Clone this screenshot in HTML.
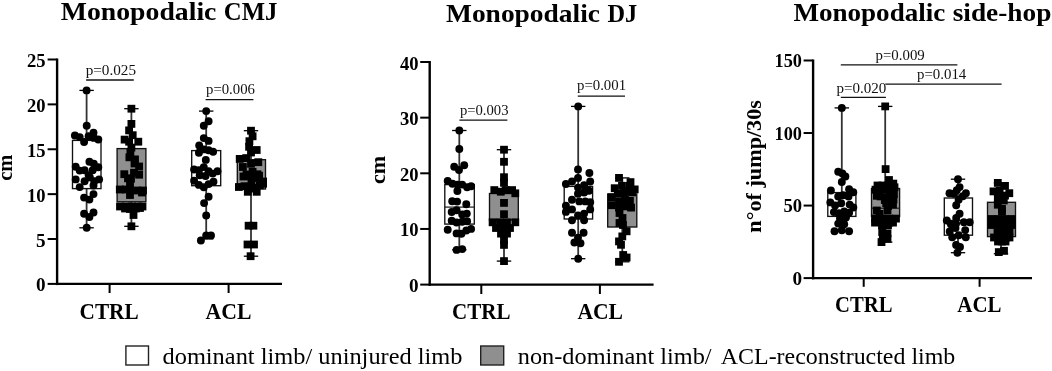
<!DOCTYPE html>
<html><head><meta charset="utf-8"><style>
html,body{margin:0;padding:0;background:#fff;}
svg{display:block;will-change:transform;font-family:"Liberation Serif",serif;}
</style></head><body>
<svg width="1052" height="371" viewBox="0 0 1052 371">
<rect width="1052" height="371" fill="#fff"/>
<line x1="57.1" y1="58.5" x2="57.1" y2="285.09999999999997" stroke="#000" stroke-width="2.4"/>
<line x1="56.1" y1="283.9" x2="282" y2="283.9" stroke="#000" stroke-width="2.4"/>
<line x1="47.6" y1="283.9" x2="57.1" y2="283.9" stroke="#000" stroke-width="2"/>
<text x="36.0" y="291.4" font-size="18" font-weight="bold" textLength="9.6" lengthAdjust="spacingAndGlyphs">0</text>
<line x1="47.6" y1="239.01999999999998" x2="57.1" y2="239.01999999999998" stroke="#000" stroke-width="2"/>
<text x="36.0" y="246.52" font-size="18" font-weight="bold" textLength="9.6" lengthAdjust="spacingAndGlyphs">5</text>
<line x1="47.6" y1="194.14" x2="57.1" y2="194.14" stroke="#000" stroke-width="2"/>
<text x="27.0" y="201.64" font-size="18" font-weight="bold" textLength="18.6" lengthAdjust="spacingAndGlyphs">10</text>
<line x1="47.6" y1="149.25999999999996" x2="57.1" y2="149.25999999999996" stroke="#000" stroke-width="2"/>
<text x="27.0" y="156.76" font-size="18" font-weight="bold" textLength="18.6" lengthAdjust="spacingAndGlyphs">15</text>
<line x1="47.6" y1="104.37999999999997" x2="57.1" y2="104.37999999999997" stroke="#000" stroke-width="2"/>
<text x="27.0" y="111.88" font-size="18" font-weight="bold" textLength="18.6" lengthAdjust="spacingAndGlyphs">20</text>
<line x1="47.6" y1="59.49999999999994" x2="57.1" y2="59.49999999999994" stroke="#000" stroke-width="2"/>
<text x="27.0" y="67.0" font-size="18" font-weight="bold" textLength="18.6" lengthAdjust="spacingAndGlyphs">25</text>
<line x1="109.6" y1="283.9" x2="109.6" y2="293" stroke="#000" stroke-width="2"/>
<line x1="228.6" y1="283.9" x2="228.6" y2="293" stroke="#000" stroke-width="2"/>
<text x="79.55" y="318.7" font-size="22.5" font-weight="bold" textLength="59.1" lengthAdjust="spacingAndGlyphs">CTRL</text>
<text x="205.55" y="318.7" font-size="22.5" font-weight="bold" textLength="45.9" lengthAdjust="spacingAndGlyphs">ACL</text>
<line x1="429.7" y1="61" x2="429.7" y2="285.8" stroke="#000" stroke-width="2.4"/>
<line x1="428.7" y1="284.6" x2="653.6" y2="284.6" stroke="#000" stroke-width="2.4"/>
<line x1="420.2" y1="284.6" x2="429.7" y2="284.6" stroke="#000" stroke-width="2"/>
<text x="408.9" y="292.1" font-size="18" font-weight="bold" textLength="9.6" lengthAdjust="spacingAndGlyphs">0</text>
<line x1="420.2" y1="228.95000000000002" x2="429.7" y2="228.95000000000002" stroke="#000" stroke-width="2"/>
<text x="399.9" y="236.45" font-size="18" font-weight="bold" textLength="18.6" lengthAdjust="spacingAndGlyphs">10</text>
<line x1="420.2" y1="173.3" x2="429.7" y2="173.3" stroke="#000" stroke-width="2"/>
<text x="399.9" y="180.8" font-size="18" font-weight="bold" textLength="18.6" lengthAdjust="spacingAndGlyphs">20</text>
<line x1="420.2" y1="117.65" x2="429.7" y2="117.65" stroke="#000" stroke-width="2"/>
<text x="399.9" y="125.15" font-size="18" font-weight="bold" textLength="18.6" lengthAdjust="spacingAndGlyphs">30</text>
<line x1="420.2" y1="62.0" x2="429.7" y2="62.0" stroke="#000" stroke-width="2"/>
<text x="399.9" y="69.5" font-size="18" font-weight="bold" textLength="18.6" lengthAdjust="spacingAndGlyphs">40</text>
<line x1="481.3" y1="284.6" x2="481.3" y2="294" stroke="#000" stroke-width="2"/>
<line x1="599.9" y1="284.6" x2="599.9" y2="294" stroke="#000" stroke-width="2"/>
<text x="452.1" y="318.9" font-size="22.5" font-weight="bold" textLength="58.4" lengthAdjust="spacingAndGlyphs">CTRL</text>
<text x="577.4" y="318.9" font-size="22.5" font-weight="bold" textLength="45.6" lengthAdjust="spacingAndGlyphs">ACL</text>
<line x1="813.1" y1="59.5" x2="813.1" y2="279.3" stroke="#000" stroke-width="2.4"/>
<line x1="812.1" y1="278.1" x2="1032" y2="278.1" stroke="#000" stroke-width="2.4"/>
<line x1="803.6" y1="278.1" x2="813.1" y2="278.1" stroke="#000" stroke-width="2"/>
<text x="792.4" y="284.7" font-size="18" font-weight="bold" textLength="9.6" lengthAdjust="spacingAndGlyphs">0</text>
<line x1="803.6" y1="205.565" x2="813.1" y2="205.565" stroke="#000" stroke-width="2"/>
<text x="783.4" y="212.16" font-size="18" font-weight="bold" textLength="18.6" lengthAdjust="spacingAndGlyphs">50</text>
<line x1="803.6" y1="133.03" x2="813.1" y2="133.03" stroke="#000" stroke-width="2"/>
<text x="774.6" y="139.63" font-size="18" font-weight="bold" textLength="27.4" lengthAdjust="spacingAndGlyphs">100</text>
<line x1="803.6" y1="60.495000000000005" x2="813.1" y2="60.495000000000005" stroke="#000" stroke-width="2"/>
<text x="774.6" y="67.09" font-size="18" font-weight="bold" textLength="27.4" lengthAdjust="spacingAndGlyphs">150</text>
<line x1="863.7" y1="278.1" x2="863.7" y2="286.8" stroke="#000" stroke-width="2"/>
<line x1="979.6" y1="278.1" x2="979.6" y2="286.8" stroke="#000" stroke-width="2"/>
<text x="835.1" y="311.5" font-size="22.5" font-weight="bold" textLength="57.4" lengthAdjust="spacingAndGlyphs">CTRL</text>
<text x="957.3" y="311.5" font-size="22.5" font-weight="bold" textLength="44.2" lengthAdjust="spacingAndGlyphs">ACL</text>
<line x1="86.6" y1="90.4" x2="86.6" y2="140.4" stroke="#333" stroke-width="1.8"/>
<line x1="86.6" y1="188.6" x2="86.6" y2="227.8" stroke="#333" stroke-width="1.8"/>
<line x1="79.39999999999999" y1="90.4" x2="93.8" y2="90.4" stroke="#000" stroke-width="1.3"/>
<line x1="79.39999999999999" y1="227.8" x2="93.8" y2="227.8" stroke="#000" stroke-width="1.3"/>
<rect x="72.5" y="140.4" width="28.5" height="48.2" fill="#fff" stroke="#111" stroke-width="1.35"/>
<circle cx="86.6" cy="90.4" r="3.95"/>
<circle cx="86.7" cy="125.8" r="3.95"/>
<circle cx="74.9" cy="135.5" r="3.95"/>
<circle cx="79.7" cy="137.1" r="3.95"/>
<circle cx="84.1" cy="142" r="3.95"/>
<circle cx="88.6" cy="136.3" r="3.95"/>
<circle cx="93.5" cy="132.8" r="3.95"/>
<circle cx="93.8" cy="137.9" r="3.95"/>
<circle cx="98.3" cy="139.5" r="3.95"/>
<circle cx="89.4" cy="161.8" r="3.95"/>
<circle cx="93.8" cy="163.8" r="3.95"/>
<circle cx="75.7" cy="166.7" r="3.95"/>
<circle cx="98.3" cy="167.3" r="3.95"/>
<circle cx="79.7" cy="170.6" r="3.95"/>
<circle cx="84.6" cy="170.2" r="3.95"/>
<circle cx="92.7" cy="170.2" r="3.95"/>
<circle cx="88.6" cy="175.1" r="3.95"/>
<circle cx="75.7" cy="179.4" r="3.95"/>
<circle cx="84.6" cy="181.2" r="3.95"/>
<circle cx="89.9" cy="177.4" r="3.95"/>
<circle cx="94.3" cy="181.2" r="3.95"/>
<circle cx="99.1" cy="179.4" r="3.95"/>
<circle cx="79.7" cy="187.1" r="3.95"/>
<circle cx="93.5" cy="185.5" r="3.95"/>
<circle cx="93.5" cy="194.1" r="3.95"/>
<circle cx="84.1" cy="197.6" r="3.95"/>
<circle cx="89.4" cy="199.6" r="3.95"/>
<circle cx="93.5" cy="212.5" r="3.95"/>
<circle cx="84.1" cy="213.8" r="3.95"/>
<circle cx="89.4" cy="217" r="3.95"/>
<circle cx="86.7" cy="227.8" r="3.95"/>
<line x1="131.4" y1="108.7" x2="131.4" y2="148.6" stroke="#333" stroke-width="1.8"/>
<line x1="131.4" y1="201.8" x2="131.4" y2="226.3" stroke="#333" stroke-width="1.8"/>
<line x1="124.2" y1="108.7" x2="138.6" y2="108.7" stroke="#000" stroke-width="1.3"/>
<line x1="124.2" y1="226.3" x2="138.6" y2="226.3" stroke="#000" stroke-width="1.3"/>
<rect x="117.1" y="148.6" width="28.8" height="53.2" fill="#8f8f8f" stroke="#111" stroke-width="1.35"/>
<rect x="127.5" y="104.8" width="7.8" height="7.8"/>
<rect x="127.5" y="120.0" width="7.8" height="7.8"/>
<rect x="125.2" y="126.5" width="7.8" height="7.8"/>
<rect x="128.8" y="131.3" width="7.8" height="7.8"/>
<rect x="120.7" y="135.7" width="7.8" height="7.8"/>
<rect x="125.2" y="137.8" width="7.8" height="7.8"/>
<rect x="134.4" y="137.8" width="7.8" height="7.8"/>
<rect x="127.5" y="143.7" width="7.8" height="7.8"/>
<rect x="126.5" y="148.3" width="7.8" height="7.8"/>
<rect x="125.5" y="153.4" width="7.8" height="7.8"/>
<rect x="131.1" y="155.5" width="7.8" height="7.8"/>
<rect x="130.6" y="159.6" width="7.8" height="7.8"/>
<rect x="135.2" y="162.6" width="7.8" height="7.8"/>
<rect x="120.4" y="170.3" width="7.8" height="7.8"/>
<rect x="130.1" y="168.8" width="7.8" height="7.8"/>
<rect x="135.2" y="170.8" width="7.8" height="7.8"/>
<rect x="124.1" y="174.4" width="7.8" height="7.8"/>
<rect x="127.1" y="174.9" width="7.8" height="7.8"/>
<rect x="126.1" y="179.1" width="7.8" height="7.8"/>
<rect x="115.9" y="185.6" width="7.8" height="7.8"/>
<rect x="122.1" y="185.6" width="7.8" height="7.8"/>
<rect x="126.1" y="185.6" width="7.8" height="7.8"/>
<rect x="133.1" y="186.6" width="7.8" height="7.8"/>
<rect x="139.1" y="186.6" width="7.8" height="7.8"/>
<rect x="126.1" y="191.1" width="7.8" height="7.8"/>
<rect x="138.1" y="188.6" width="7.8" height="7.8"/>
<rect x="116.1" y="202.6" width="7.8" height="7.8"/>
<rect x="122.1" y="202.6" width="7.8" height="7.8"/>
<rect x="128.1" y="202.6" width="7.8" height="7.8"/>
<rect x="134.1" y="202.6" width="7.8" height="7.8"/>
<rect x="138.6" y="202.6" width="7.8" height="7.8"/>
<rect x="121.1" y="204.6" width="7.8" height="7.8"/>
<rect x="126.1" y="205.1" width="7.8" height="7.8"/>
<rect x="132.1" y="204.6" width="7.8" height="7.8"/>
<rect x="136.1" y="204.1" width="7.8" height="7.8"/>
<rect x="129.6" y="211.1" width="7.8" height="7.8"/>
<rect x="127.5" y="222.4" width="7.8" height="7.8"/>
<line x1="206.2" y1="111.1" x2="206.2" y2="150.6" stroke="#333" stroke-width="1.8"/>
<line x1="206.2" y1="185.7" x2="206.2" y2="238.9" stroke="#333" stroke-width="1.8"/>
<line x1="199.0" y1="111.1" x2="213.39999999999998" y2="111.1" stroke="#000" stroke-width="1.3"/>
<line x1="199.0" y1="238.9" x2="213.39999999999998" y2="238.9" stroke="#000" stroke-width="1.3"/>
<rect x="191.7" y="150.6" width="29.0" height="35.1" fill="#fff" stroke="#111" stroke-width="1.35"/>
<circle cx="206.2" cy="111.1" r="3.95"/>
<circle cx="208.6" cy="121.2" r="3.95"/>
<circle cx="203.8" cy="125.7" r="3.95"/>
<circle cx="203.8" cy="138.1" r="3.95"/>
<circle cx="208.6" cy="140.9" r="3.95"/>
<circle cx="199.2" cy="145.4" r="3.95"/>
<circle cx="198.9" cy="152.7" r="3.95"/>
<circle cx="203.8" cy="149.4" r="3.95"/>
<circle cx="208.6" cy="150.2" r="3.95"/>
<circle cx="213.1" cy="151.8" r="3.95"/>
<circle cx="205.8" cy="159.9" r="3.95"/>
<circle cx="194.1" cy="169.5" r="3.95"/>
<circle cx="198.9" cy="170.3" r="3.95"/>
<circle cx="203.8" cy="167.1" r="3.95"/>
<circle cx="208.6" cy="171.2" r="3.95"/>
<circle cx="217.5" cy="171.2" r="3.95"/>
<circle cx="212.7" cy="173.6" r="3.95"/>
<circle cx="199.7" cy="175.2" r="3.95"/>
<circle cx="205.5" cy="176" r="3.95"/>
<circle cx="194.1" cy="180.8" r="3.95"/>
<circle cx="198.9" cy="184.9" r="3.95"/>
<circle cx="203.8" cy="187.3" r="3.95"/>
<circle cx="208.6" cy="184.1" r="3.95"/>
<circle cx="213.5" cy="181.7" r="3.95"/>
<circle cx="208.6" cy="196.7" r="3.95"/>
<circle cx="204.1" cy="203.1" r="3.95"/>
<circle cx="206.2" cy="215.5" r="3.95"/>
<circle cx="206.2" cy="235.4" r="3.95"/>
<circle cx="211" cy="235.4" r="3.95"/>
<circle cx="200.9" cy="240.5" r="3.95"/>
<line x1="251.0" y1="130.7" x2="251.0" y2="159.7" stroke="#333" stroke-width="1.8"/>
<line x1="251.0" y1="189.0" x2="251.0" y2="256.2" stroke="#333" stroke-width="1.8"/>
<line x1="243.8" y1="130.7" x2="258.2" y2="130.7" stroke="#000" stroke-width="1.3"/>
<line x1="243.8" y1="256.2" x2="258.2" y2="256.2" stroke="#000" stroke-width="1.3"/>
<rect x="237.3" y="159.7" width="28.2" height="29.3" fill="#8f8f8f" stroke="#111" stroke-width="1.35"/>
<rect x="247.1" y="126.8" width="7.8" height="7.8"/>
<rect x="248.7" y="132.4" width="7.8" height="7.8"/>
<rect x="245.5" y="137.3" width="7.8" height="7.8"/>
<rect x="245.2" y="142.9" width="7.8" height="7.8"/>
<rect x="252.8" y="146.1" width="7.8" height="7.8"/>
<rect x="247.1" y="148.6" width="7.8" height="7.8"/>
<rect x="235.8" y="155.0" width="7.8" height="7.8"/>
<rect x="242.3" y="154.2" width="7.8" height="7.8"/>
<rect x="254.4" y="158.3" width="7.8" height="7.8"/>
<rect x="247.1" y="159.9" width="7.8" height="7.8"/>
<rect x="239.0" y="163.1" width="7.8" height="7.8"/>
<rect x="248.7" y="167.9" width="7.8" height="7.8"/>
<rect x="253.6" y="170.4" width="7.8" height="7.8"/>
<rect x="242.6" y="170.6" width="7.8" height="7.8"/>
<rect x="239.6" y="172.6" width="7.8" height="7.8"/>
<rect x="247.1" y="172.5" width="7.8" height="7.8"/>
<rect x="259.2" y="177.6" width="7.8" height="7.8"/>
<rect x="247.6" y="177.6" width="7.8" height="7.8"/>
<rect x="252.1" y="174.1" width="7.8" height="7.8"/>
<rect x="255.2" y="171.8" width="7.8" height="7.8"/>
<rect x="235.0" y="183.1" width="7.8" height="7.8"/>
<rect x="240.6" y="182.3" width="7.8" height="7.8"/>
<rect x="245.5" y="184.7" width="7.8" height="7.8"/>
<rect x="251.1" y="183.9" width="7.8" height="7.8"/>
<rect x="256.0" y="181.4" width="7.8" height="7.8"/>
<rect x="259.2" y="179.8" width="7.8" height="7.8"/>
<rect x="243.9" y="187.9" width="7.8" height="7.8"/>
<rect x="252.8" y="187.9" width="7.8" height="7.8"/>
<rect x="244.7" y="221.8" width="7.8" height="7.8"/>
<rect x="249.5" y="221.8" width="7.8" height="7.8"/>
<rect x="243.6" y="240.6" width="7.8" height="7.8"/>
<rect x="250.1" y="240.6" width="7.8" height="7.8"/>
<rect x="246.7" y="252.3" width="7.8" height="7.8"/>
<line x1="459.3" y1="130.5" x2="459.3" y2="184.6" stroke="#333" stroke-width="1.8"/>
<line x1="459.3" y1="224.1" x2="459.3" y2="249.8" stroke="#333" stroke-width="1.8"/>
<line x1="452.1" y1="130.5" x2="466.5" y2="130.5" stroke="#000" stroke-width="1.3"/>
<line x1="452.1" y1="249.8" x2="466.5" y2="249.8" stroke="#000" stroke-width="1.3"/>
<rect x="444.8" y="184.6" width="29.5" height="39.5" fill="#fff" stroke="#111" stroke-width="1.35"/>
<line x1="444.8" y1="207.1" x2="474.3" y2="207.1" stroke="#1a1a1a" stroke-width="1.2"/>
<circle cx="459.3" cy="130.5" r="3.95"/>
<circle cx="459.3" cy="149" r="3.95"/>
<circle cx="454.2" cy="166.8" r="3.95"/>
<circle cx="464.2" cy="165.2" r="3.95"/>
<circle cx="459" cy="170" r="3.95"/>
<circle cx="447.7" cy="180.9" r="3.95"/>
<circle cx="452.5" cy="183.8" r="3.95"/>
<circle cx="457.4" cy="184.6" r="3.95"/>
<circle cx="462.2" cy="184.6" r="3.95"/>
<circle cx="467.1" cy="187.3" r="3.95"/>
<circle cx="471.1" cy="186.2" r="3.95"/>
<circle cx="457.4" cy="191" r="3.95"/>
<circle cx="452.2" cy="201.2" r="3.95"/>
<circle cx="457.1" cy="201.6" r="3.95"/>
<circle cx="466.3" cy="204.3" r="3.95"/>
<circle cx="451.7" cy="212" r="3.95"/>
<circle cx="456.6" cy="210.3" r="3.95"/>
<circle cx="462.2" cy="214.4" r="3.95"/>
<circle cx="466.8" cy="213.6" r="3.95"/>
<circle cx="451.7" cy="220.8" r="3.95"/>
<circle cx="456.6" cy="222.5" r="3.95"/>
<circle cx="462.2" cy="221.7" r="3.95"/>
<circle cx="467.1" cy="221.2" r="3.95"/>
<circle cx="447.7" cy="229.7" r="3.95"/>
<circle cx="456.6" cy="233.4" r="3.95"/>
<circle cx="461.4" cy="233.8" r="3.95"/>
<circle cx="466.3" cy="230.5" r="3.95"/>
<circle cx="471.1" cy="228.9" r="3.95"/>
<circle cx="456.6" cy="249.9" r="3.95"/>
<circle cx="462.2" cy="249.1" r="3.95"/>
<line x1="504.0" y1="149.7" x2="504.0" y2="193.5" stroke="#333" stroke-width="1.8"/>
<line x1="504.0" y1="220.0" x2="504.0" y2="261.1" stroke="#333" stroke-width="1.8"/>
<line x1="496.8" y1="149.7" x2="511.2" y2="149.7" stroke="#000" stroke-width="1.3"/>
<line x1="496.8" y1="261.1" x2="511.2" y2="261.1" stroke="#000" stroke-width="1.3"/>
<rect x="489.5" y="193.5" width="28.8" height="26.5" fill="#8f8f8f" stroke="#111" stroke-width="1.35"/>
<rect x="500.1" y="145.8" width="7.8" height="7.8"/>
<rect x="500.1" y="157.9" width="7.8" height="7.8"/>
<rect x="500.1" y="173.3" width="7.8" height="7.8"/>
<rect x="500.1" y="178.9" width="7.8" height="7.8"/>
<rect x="490.4" y="186.2" width="7.8" height="7.8"/>
<rect x="496.9" y="187.8" width="7.8" height="7.8"/>
<rect x="501.7" y="186.2" width="7.8" height="7.8"/>
<rect x="508.2" y="186.2" width="7.8" height="7.8"/>
<rect x="511.4" y="189.4" width="7.8" height="7.8"/>
<rect x="500.1" y="199.0" width="7.8" height="7.8"/>
<rect x="500.1" y="210.3" width="7.8" height="7.8"/>
<rect x="488.7" y="218.4" width="7.8" height="7.8"/>
<rect x="496.1" y="218.4" width="7.8" height="7.8"/>
<rect x="503.1" y="218.4" width="7.8" height="7.8"/>
<rect x="511.4" y="218.4" width="7.8" height="7.8"/>
<rect x="492.1" y="224.1" width="7.8" height="7.8"/>
<rect x="499.1" y="224.1" width="7.8" height="7.8"/>
<rect x="506.1" y="224.1" width="7.8" height="7.8"/>
<rect x="497.1" y="229.7" width="7.8" height="7.8"/>
<rect x="503.1" y="229.7" width="7.8" height="7.8"/>
<rect x="500.1" y="236.2" width="7.8" height="7.8"/>
<rect x="500.1" y="241.0" width="7.8" height="7.8"/>
<rect x="500.1" y="257.2" width="7.8" height="7.8"/>
<line x1="578.2" y1="106.4" x2="578.2" y2="186.4" stroke="#333" stroke-width="1.8"/>
<line x1="578.2" y1="219.0" x2="578.2" y2="258.7" stroke="#333" stroke-width="1.8"/>
<line x1="571.0" y1="106.4" x2="585.4000000000001" y2="106.4" stroke="#000" stroke-width="1.3"/>
<line x1="571.0" y1="258.7" x2="585.4000000000001" y2="258.7" stroke="#000" stroke-width="1.3"/>
<rect x="564.2" y="186.4" width="28.4" height="32.6" fill="#fff" stroke="#111" stroke-width="1.35"/>
<circle cx="578.2" cy="106.4" r="3.95"/>
<circle cx="578" cy="169.4" r="3.95"/>
<circle cx="589.4" cy="173" r="3.95"/>
<circle cx="578" cy="177.9" r="3.95"/>
<circle cx="565.9" cy="184" r="3.95"/>
<circle cx="572" cy="181.5" r="3.95"/>
<circle cx="584.1" cy="185.2" r="3.95"/>
<circle cx="590.2" cy="181.5" r="3.95"/>
<circle cx="578" cy="187.6" r="3.95"/>
<circle cx="578" cy="193.7" r="3.95"/>
<circle cx="584.1" cy="192.5" r="3.95"/>
<circle cx="589" cy="190.8" r="3.95"/>
<circle cx="572" cy="199.7" r="3.95"/>
<circle cx="579.3" cy="201.4" r="3.95"/>
<circle cx="585.3" cy="201.4" r="3.95"/>
<circle cx="590.2" cy="202.2" r="3.95"/>
<circle cx="565.9" cy="205.8" r="3.95"/>
<circle cx="572" cy="209.4" r="3.95"/>
<circle cx="565.9" cy="211.9" r="3.95"/>
<circle cx="578" cy="215.5" r="3.95"/>
<circle cx="584.1" cy="213.6" r="3.95"/>
<circle cx="590.2" cy="209.4" r="3.95"/>
<circle cx="572" cy="220.2" r="3.95"/>
<circle cx="584.1" cy="220.2" r="3.95"/>
<circle cx="572" cy="232.8" r="3.95"/>
<circle cx="583.6" cy="232.8" r="3.95"/>
<circle cx="578" cy="237.6" r="3.95"/>
<circle cx="574.4" cy="242.5" r="3.95"/>
<circle cx="580.5" cy="243.2" r="3.95"/>
<circle cx="578.2" cy="258.7" r="3.95"/>
<line x1="622.3" y1="177.9" x2="622.3" y2="194.0" stroke="#333" stroke-width="1.8"/>
<line x1="622.3" y1="227.0" x2="622.3" y2="261.8" stroke="#333" stroke-width="1.8"/>
<line x1="615.0999999999999" y1="177.9" x2="629.5" y2="177.9" stroke="#000" stroke-width="1.3"/>
<line x1="615.0999999999999" y1="261.8" x2="629.5" y2="261.8" stroke="#000" stroke-width="1.3"/>
<rect x="607.7" y="194.0" width="29.1" height="33.0" fill="#8f8f8f" stroke="#111" stroke-width="1.35"/>
<rect x="615.1" y="174.0" width="7.8" height="7.8"/>
<rect x="626.6" y="178.2" width="7.8" height="7.8"/>
<rect x="610.8" y="184.3" width="7.8" height="7.8"/>
<rect x="618.1" y="181.9" width="7.8" height="7.8"/>
<rect x="626.0" y="181.9" width="7.8" height="7.8"/>
<rect x="630.8" y="185.5" width="7.8" height="7.8"/>
<rect x="607.8" y="193.4" width="7.8" height="7.8"/>
<rect x="613.9" y="189.7" width="7.8" height="7.8"/>
<rect x="619.9" y="189.1" width="7.8" height="7.8"/>
<rect x="624.8" y="187.3" width="7.8" height="7.8"/>
<rect x="628.4" y="188.5" width="7.8" height="7.8"/>
<rect x="607.8" y="201.3" width="7.8" height="7.8"/>
<rect x="615.1" y="197.6" width="7.8" height="7.8"/>
<rect x="621.1" y="195.2" width="7.8" height="7.8"/>
<rect x="626.0" y="197.0" width="7.8" height="7.8"/>
<rect x="615.1" y="203.7" width="7.8" height="7.8"/>
<rect x="621.7" y="202.5" width="7.8" height="7.8"/>
<rect x="627.2" y="203.7" width="7.8" height="7.8"/>
<rect x="615.6" y="209.1" width="7.8" height="7.8"/>
<rect x="618.6" y="214.1" width="7.8" height="7.8"/>
<rect x="615.6" y="219.1" width="7.8" height="7.8"/>
<rect x="619.1" y="221.1" width="7.8" height="7.8"/>
<rect x="622.7" y="227.4" width="7.8" height="7.8"/>
<rect x="618.4" y="232.5" width="7.8" height="7.8"/>
<rect x="615.1" y="237.5" width="7.8" height="7.8"/>
<rect x="617.1" y="240.9" width="7.8" height="7.8"/>
<rect x="619.3" y="251.1" width="7.8" height="7.8"/>
<rect x="622.7" y="253.6" width="7.8" height="7.8"/>
<rect x="615.1" y="257.9" width="7.8" height="7.8"/>
<line x1="841.8" y1="107.9" x2="841.8" y2="192.6" stroke="#333" stroke-width="1.8"/>
<line x1="841.8" y1="216.4" x2="841.8" y2="231.0" stroke="#333" stroke-width="1.8"/>
<line x1="834.5999999999999" y1="107.9" x2="849.0" y2="107.9" stroke="#000" stroke-width="1.3"/>
<line x1="834.5999999999999" y1="231.0" x2="849.0" y2="231.0" stroke="#000" stroke-width="1.3"/>
<rect x="827.8" y="192.6" width="28.1" height="23.8" fill="#fff" stroke="#111" stroke-width="1.35"/>
<circle cx="841.8" cy="107.9" r="3.95"/>
<circle cx="838.2" cy="171.7" r="3.95"/>
<circle cx="842.4" cy="173.5" r="3.95"/>
<circle cx="845.4" cy="176.5" r="3.95"/>
<circle cx="841.8" cy="182" r="3.95"/>
<circle cx="830.9" cy="190.5" r="3.95"/>
<circle cx="849.1" cy="189.2" r="3.95"/>
<circle cx="853.3" cy="192.3" r="3.95"/>
<circle cx="838.2" cy="196.5" r="3.95"/>
<circle cx="843" cy="195.3" r="3.95"/>
<circle cx="848.5" cy="196.5" r="3.95"/>
<circle cx="830.3" cy="202.4" r="3.95"/>
<circle cx="835.1" cy="205.5" r="3.95"/>
<circle cx="841.2" cy="203.2" r="3.95"/>
<circle cx="849.7" cy="204.6" r="3.95"/>
<circle cx="853.3" cy="207.5" r="3.95"/>
<circle cx="833.9" cy="212.1" r="3.95"/>
<circle cx="838.8" cy="213.3" r="3.95"/>
<circle cx="844.2" cy="211.5" r="3.95"/>
<circle cx="849.1" cy="212.7" r="3.95"/>
<circle cx="840" cy="218.2" r="3.95"/>
<circle cx="846" cy="217.6" r="3.95"/>
<circle cx="838.2" cy="223.6" r="3.95"/>
<circle cx="844.2" cy="224.2" r="3.95"/>
<circle cx="834.5" cy="231.3" r="3.95"/>
<circle cx="841.8" cy="230.3" r="3.95"/>
<circle cx="849.1" cy="231.3" r="3.95"/>
<line x1="885.2" y1="106.4" x2="885.2" y2="188.5" stroke="#333" stroke-width="1.8"/>
<line x1="885.2" y1="216.5" x2="885.2" y2="242.1" stroke="#333" stroke-width="1.8"/>
<line x1="878.0" y1="106.4" x2="892.4000000000001" y2="106.4" stroke="#000" stroke-width="1.3"/>
<line x1="878.0" y1="242.1" x2="892.4000000000001" y2="242.1" stroke="#000" stroke-width="1.3"/>
<rect x="871.5" y="188.5" width="28.1" height="28.0" fill="#8f8f8f" stroke="#111" stroke-width="1.35"/>
<line x1="871.5" y1="208.2" x2="899.6" y2="208.2" stroke="#1a1a1a" stroke-width="1.2"/>
<rect x="881.3" y="102.5" width="7.8" height="7.8"/>
<rect x="881.7" y="165.2" width="7.8" height="7.8"/>
<rect x="885.1" y="176.1" width="7.8" height="7.8"/>
<rect x="889.4" y="179.7" width="7.8" height="7.8"/>
<rect x="873.6" y="181.6" width="7.8" height="7.8"/>
<rect x="878.5" y="181.6" width="7.8" height="7.8"/>
<rect x="883.9" y="181.6" width="7.8" height="7.8"/>
<rect x="890.6" y="183.4" width="7.8" height="7.8"/>
<rect x="871.6" y="185.8" width="7.8" height="7.8"/>
<rect x="878.1" y="185.8" width="7.8" height="7.8"/>
<rect x="885.1" y="185.8" width="7.8" height="7.8"/>
<rect x="889.1" y="185.8" width="7.8" height="7.8"/>
<rect x="873.0" y="191.9" width="7.8" height="7.8"/>
<rect x="876.6" y="192.5" width="7.8" height="7.8"/>
<rect x="885.7" y="190.1" width="7.8" height="7.8"/>
<rect x="890.0" y="190.1" width="7.8" height="7.8"/>
<rect x="880.9" y="196.1" width="7.8" height="7.8"/>
<rect x="885.7" y="197.3" width="7.8" height="7.8"/>
<rect x="889.6" y="195.6" width="7.8" height="7.8"/>
<rect x="889.1" y="200.6" width="7.8" height="7.8"/>
<rect x="884.1" y="202.1" width="7.8" height="7.8"/>
<rect x="882.3" y="193.8" width="7.8" height="7.8"/>
<rect x="882.3" y="199.2" width="7.8" height="7.8"/>
<rect x="872.9" y="206.6" width="7.8" height="7.8"/>
<rect x="883.6" y="206.6" width="7.8" height="7.8"/>
<rect x="875.6" y="210.0" width="7.8" height="7.8"/>
<rect x="871.1" y="214.7" width="7.8" height="7.8"/>
<rect x="878.1" y="214.7" width="7.8" height="7.8"/>
<rect x="885.1" y="214.7" width="7.8" height="7.8"/>
<rect x="892.1" y="214.7" width="7.8" height="7.8"/>
<rect x="871.1" y="218.7" width="7.8" height="7.8"/>
<rect x="878.1" y="218.7" width="7.8" height="7.8"/>
<rect x="885.1" y="218.7" width="7.8" height="7.8"/>
<rect x="889.1" y="218.7" width="7.8" height="7.8"/>
<rect x="878.1" y="221.4" width="7.8" height="7.8"/>
<rect x="884.1" y="221.4" width="7.8" height="7.8"/>
<rect x="878.3" y="228.1" width="7.8" height="7.8"/>
<rect x="883.6" y="229.5" width="7.8" height="7.8"/>
<rect x="878.9" y="234.2" width="7.8" height="7.8"/>
<rect x="883.6" y="234.9" width="7.8" height="7.8"/>
<rect x="877.6" y="238.2" width="7.8" height="7.8"/>
<line x1="958.0" y1="179.2" x2="958.0" y2="198.0" stroke="#333" stroke-width="1.8"/>
<line x1="958.0" y1="235.2" x2="958.0" y2="252.7" stroke="#333" stroke-width="1.8"/>
<line x1="950.8" y1="179.2" x2="965.2" y2="179.2" stroke="#000" stroke-width="1.3"/>
<line x1="950.8" y1="252.7" x2="965.2" y2="252.7" stroke="#000" stroke-width="1.3"/>
<rect x="944.3" y="198.0" width="28.2" height="37.2" fill="#fff" stroke="#111" stroke-width="1.35"/>
<line x1="944.3" y1="220.4" x2="972.5" y2="220.4" stroke="#1a1a1a" stroke-width="1.2"/>
<circle cx="958" cy="179.2" r="3.95"/>
<circle cx="959.6" cy="187.1" r="3.95"/>
<circle cx="956.8" cy="190.2" r="3.95"/>
<circle cx="949.5" cy="193.2" r="3.95"/>
<circle cx="953.8" cy="193.8" r="3.95"/>
<circle cx="965.9" cy="193.2" r="3.95"/>
<circle cx="962.8" cy="196.2" r="3.95"/>
<circle cx="958.6" cy="199.8" r="3.95"/>
<circle cx="956.2" cy="205.3" r="3.95"/>
<circle cx="959.6" cy="213.8" r="3.95"/>
<circle cx="956.2" cy="218" r="3.95"/>
<circle cx="946.8" cy="220.5" r="3.95"/>
<circle cx="950.9" cy="224.2" r="3.95"/>
<circle cx="956.1" cy="223.6" r="3.95"/>
<circle cx="963.9" cy="222.3" r="3.95"/>
<circle cx="969.7" cy="222.3" r="3.95"/>
<circle cx="949.7" cy="231.4" r="3.95"/>
<circle cx="955.5" cy="228.1" r="3.95"/>
<circle cx="965.2" cy="230.1" r="3.95"/>
<circle cx="952.2" cy="237.2" r="3.95"/>
<circle cx="958.7" cy="235.2" r="3.95"/>
<circle cx="965.8" cy="237.2" r="3.95"/>
<circle cx="956.1" cy="245" r="3.95"/>
<circle cx="960" cy="246.9" r="3.95"/>
<circle cx="957.4" cy="252.7" r="3.95"/>
<line x1="1001.0" y1="182.9" x2="1001.0" y2="202.3" stroke="#333" stroke-width="1.8"/>
<line x1="1001.0" y1="236.6" x2="1001.0" y2="253.7" stroke="#333" stroke-width="1.8"/>
<line x1="993.8" y1="182.9" x2="1008.2" y2="182.9" stroke="#000" stroke-width="1.3"/>
<line x1="993.8" y1="253.7" x2="1008.2" y2="253.7" stroke="#000" stroke-width="1.3"/>
<rect x="987.5" y="202.3" width="28.0" height="34.3" fill="#8f8f8f" stroke="#111" stroke-width="1.35"/>
<rect x="993.9" y="179.0" width="7.8" height="7.8"/>
<rect x="1001.1" y="182.0" width="7.8" height="7.8"/>
<rect x="989.6" y="187.5" width="7.8" height="7.8"/>
<rect x="995.7" y="186.9" width="7.8" height="7.8"/>
<rect x="1005.4" y="189.3" width="7.8" height="7.8"/>
<rect x="1001.1" y="191.7" width="7.8" height="7.8"/>
<rect x="993.9" y="194.1" width="7.8" height="7.8"/>
<rect x="999.9" y="196.6" width="7.8" height="7.8"/>
<rect x="993.9" y="200.8" width="7.8" height="7.8"/>
<rect x="998.1" y="205.0" width="7.8" height="7.8"/>
<rect x="998.1" y="207.6" width="7.8" height="7.8"/>
<rect x="987.6" y="215.1" width="7.8" height="7.8"/>
<rect x="994.1" y="215.1" width="7.8" height="7.8"/>
<rect x="1001.1" y="215.1" width="7.8" height="7.8"/>
<rect x="1008.1" y="215.1" width="7.8" height="7.8"/>
<rect x="987.6" y="221.1" width="7.8" height="7.8"/>
<rect x="994.1" y="221.1" width="7.8" height="7.8"/>
<rect x="1001.1" y="221.1" width="7.8" height="7.8"/>
<rect x="1008.1" y="221.1" width="7.8" height="7.8"/>
<rect x="993.6" y="227.1" width="7.8" height="7.8"/>
<rect x="999.6" y="227.1" width="7.8" height="7.8"/>
<rect x="1005.6" y="227.1" width="7.8" height="7.8"/>
<rect x="990.1" y="233.6" width="7.8" height="7.8"/>
<rect x="996.1" y="233.6" width="7.8" height="7.8"/>
<rect x="1002.1" y="233.6" width="7.8" height="7.8"/>
<rect x="1005.6" y="233.6" width="7.8" height="7.8"/>
<rect x="994.1" y="237.6" width="7.8" height="7.8"/>
<rect x="998.1" y="237.6" width="7.8" height="7.8"/>
<rect x="1001.6" y="237.6" width="7.8" height="7.8"/>
<rect x="994.9" y="248.2" width="7.8" height="7.8"/>
<rect x="1000.1" y="246.9" width="7.8" height="7.8"/>
<text x="85.7" y="74.5" font-size="15" font-weight="normal" textLength="50.4" lengthAdjust="spacingAndGlyphs" fill="#111">p=0.025</text>
<line x1="86.1" y1="80" x2="133.8" y2="80" stroke="#111" stroke-width="1.3"/>
<text x="206.0" y="93.5" font-size="15" font-weight="normal" textLength="49.0" lengthAdjust="spacingAndGlyphs" fill="#111">p=0.006</text>
<line x1="205.6" y1="99.6" x2="253.4" y2="99.6" stroke="#111" stroke-width="1.3"/>
<text x="459.9" y="114.5" font-size="15" font-weight="normal" textLength="48.6" lengthAdjust="spacingAndGlyphs" fill="#111">p=0.003</text>
<line x1="459.4" y1="120.2" x2="507.4" y2="120.2" stroke="#111" stroke-width="1.3"/>
<text x="577" y="90.3" font-size="15" font-weight="normal" textLength="49.1" lengthAdjust="spacingAndGlyphs" fill="#111">p=0.001</text>
<line x1="577.8" y1="96.1" x2="625" y2="96.1" stroke="#111" stroke-width="1.3"/>
<text x="875.5" y="60.1" font-size="15" font-weight="normal" textLength="49.3" lengthAdjust="spacingAndGlyphs" fill="#111">p=0.009</text>
<line x1="840.8" y1="64.8" x2="957.4" y2="64.8" stroke="#111" stroke-width="1.3"/>
<text x="917" y="78.6" font-size="15" font-weight="normal" textLength="49.3" lengthAdjust="spacingAndGlyphs" fill="#111">p=0.014</text>
<line x1="885.3" y1="84.2" x2="1001.6" y2="84.2" stroke="#111" stroke-width="1.3"/>
<text x="836.4" y="92.5" font-size="15" font-weight="normal" textLength="49.8" lengthAdjust="spacingAndGlyphs" fill="#111">p=0.020</text>
<line x1="840.8" y1="97.3" x2="885.9" y2="97.3" stroke="#111" stroke-width="1.3"/>
<text x="60.8" y="19.7" font-size="25.5" font-weight="bold" textLength="155.6" lengthAdjust="spacingAndGlyphs">Monopodalic</text>
<text x="223.8" y="19.7" font-size="25.5" font-weight="bold" textLength="53.5" lengthAdjust="spacingAndGlyphs">CMJ</text>
<text x="446.0" y="22" font-size="25.5" font-weight="bold" textLength="154.0" lengthAdjust="spacingAndGlyphs">Monopodalic</text>
<text x="607.4" y="22" font-size="25.5" font-weight="bold" textLength="29.7" lengthAdjust="spacingAndGlyphs">DJ</text>
<text x="793.4" y="21.2" font-size="25.5" font-weight="bold" textLength="151.9" lengthAdjust="spacingAndGlyphs">Monopodalic</text>
<text x="952.7" y="21.2" font-size="25.5" font-weight="bold" textLength="98.7" lengthAdjust="spacingAndGlyphs">side-hop</text>
<text transform="translate(11.7,167.7) rotate(-90)" font-size="20" font-weight="bold" text-anchor="middle" textLength="26.2" lengthAdjust="spacingAndGlyphs">cm</text>
<text transform="translate(384.8,170) rotate(-90)" font-size="21" font-weight="bold" text-anchor="middle" textLength="28" lengthAdjust="spacingAndGlyphs">cm</text>
<text transform="translate(761.2,166.4) rotate(-90)" font-size="21" font-weight="bold" text-anchor="middle" textLength="132.6" lengthAdjust="spacingAndGlyphs">n°of jump/30s</text>
<rect x="125.9" y="346" width="22.6" height="19" fill="#fff" stroke="#222" stroke-width="1.4"/>
<text x="162.5" y="364.2" font-size="23" font-weight="normal" textLength="300" lengthAdjust="spacingAndGlyphs">dominant limb/ uninjured limb</text>
<rect x="480.7" y="346" width="23" height="19" fill="#8f8f8f" stroke="#222" stroke-width="1.4"/>
<text x="517.8" y="364.2" font-size="23" font-weight="normal" textLength="193.8" lengthAdjust="spacingAndGlyphs">non-dominant limb/</text>
<text x="720.8" y="364.2" font-size="23" font-weight="normal" textLength="234.5" lengthAdjust="spacingAndGlyphs">ACL-reconstructed limb</text>
</svg></body></html>
